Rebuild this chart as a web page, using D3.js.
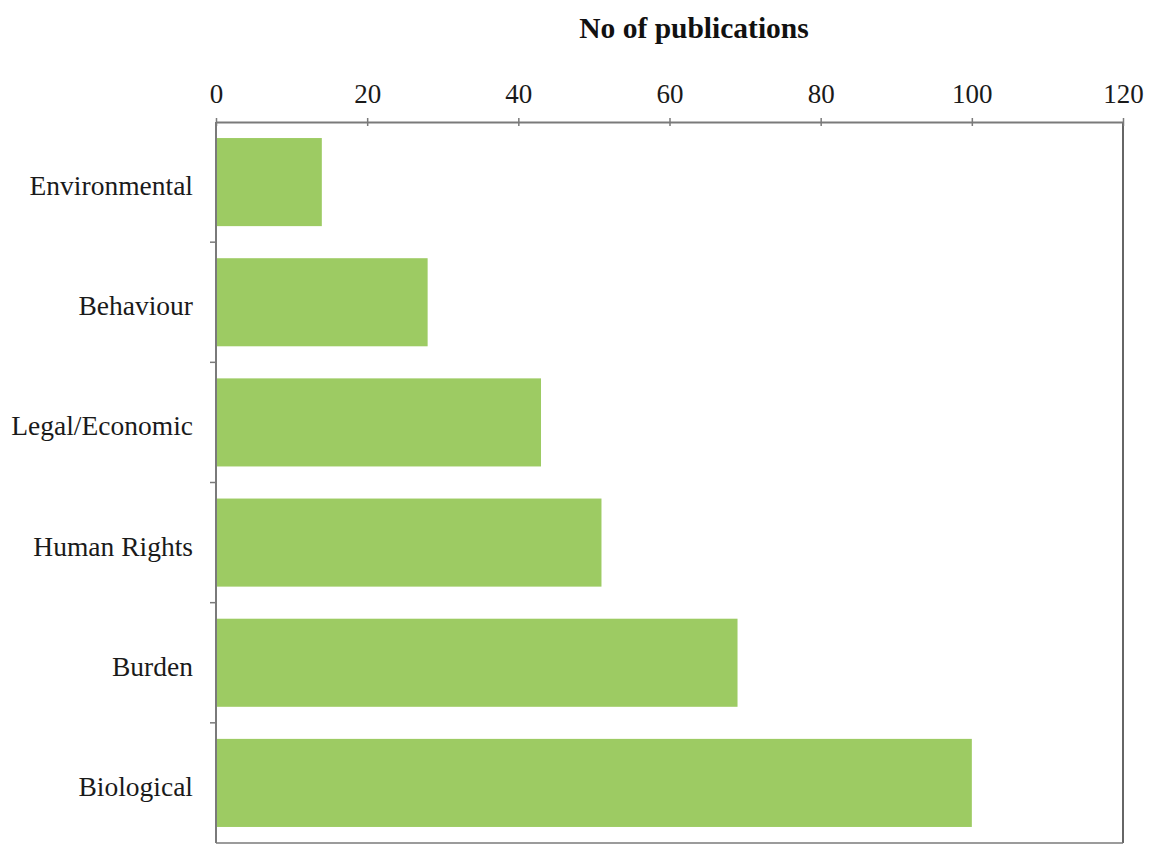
<!DOCTYPE html>
<html>
<head>
<meta charset="utf-8">
<script src="https://cdn.jsdelivr.net/npm/d3@7"></script>
<style>
  html, body { margin: 0; padding: 0; background: #fff; }
  svg { display: block; }
</style>
</head>
<body>
<svg id="chart" width="1152" height="844"></svg>
<script>
const categories = ["Environmental", "Behaviour", "Legal/Economic", "Human Rights", "Burden", "Biological"];
const values = [14, 28, 43, 51, 69, 100];
const xTicks = [0, 20, 40, 60, 80, 100, 120];
const axisTitle = "No of publications";

const svg = d3.select("#chart");
const margin = { left: 216, right: 1152 - 1123, top: 122, bottom: 844 - 843 };
const W = 1152, H = 844;

const x = d3.scaleLinear().domain([0, 120]).range([margin.left, W - margin.right]);
const y = d3.scaleBand().domain(categories).range([margin.top, H - margin.bottom])
  .paddingInner(0.267).paddingOuter(0.1335);

const font = "'Liberation Serif', 'Times New Roman', serif";
const barColor = "#9dcb63";
const axisColor = "#7a7a7a";

// bars
svg.append("g").selectAll("rect").data(categories).join("rect")
  .attr("x", x(0) + 1)
  .attr("y", d => y(d))
  .attr("width", (d, i) => x(values[i]) - x(0) - 1)
  .attr("height", y.bandwidth())
  .attr("fill", barColor);

// frame right & bottom
svg.append("line").attr("x1", x(120)).attr("x2", x(120))
  .attr("y1", margin.top).attr("y2", H - margin.bottom)
  .attr("stroke", "#666").attr("stroke-width", 2);
svg.append("line").attr("x1", x(0)).attr("x2", x(120))
  .attr("y1", H - margin.bottom).attr("y2", H - margin.bottom)
  .attr("stroke", axisColor).attr("stroke-width", 1.5);

// top axis
const xAxis = d3.axisTop(x).tickValues(xTicks).tickSize(4).tickSizeOuter(0).tickPadding(15);
const gx = svg.append("g").attr("transform", `translate(0,${margin.top})`).call(xAxis);
gx.select(".domain").attr("stroke", axisColor).attr("stroke-width", 2);
gx.selectAll(".tick line").attr("stroke", axisColor).attr("stroke-width", 1.5).attr("y2", 4).attr("y1", -4);
gx.selectAll(".tick text").attr("font-family", font).attr("font-size", 27).attr("fill", "#1a1a1a");

// left axis with ticks at band boundaries
const gy = svg.append("g").attr("transform", `translate(${x(0)},0)`);
gy.append("line").attr("x1", 0).attr("x2", 0).attr("y1", margin.top).attr("y2", H - margin.bottom)
  .attr("stroke", axisColor).attr("stroke-width", 2);
const step = y.step();
gy.selectAll("line.tick").data(categories.slice(1)).join("line")
  .attr("class", "tick")
  .attr("x1", -6).attr("x2", 0)
  .attr("y1", d => y(d) - (step - y.bandwidth()) / 2)
  .attr("y2", d => y(d) - (step - y.bandwidth()) / 2)
  .attr("stroke", axisColor).attr("stroke-width", 1.5);
gy.selectAll("text").data(categories).join("text")
  .attr("x", -23)
  .attr("y", d => y(d) + y.bandwidth() / 2 + 13)
  .attr("text-anchor", "end")
  .attr("font-family", font).attr("font-size", 27.5).attr("fill", "#1a1a1a")
  .text(d => d);

// title
svg.append("text")
  .attr("x", 694).attr("y", 38)
  .attr("text-anchor", "middle")
  .attr("font-family", font).attr("font-size", 29.5).attr("font-weight", "bold").attr("fill", "#111")
  .text(axisTitle);
</script>
</body>
</html>
